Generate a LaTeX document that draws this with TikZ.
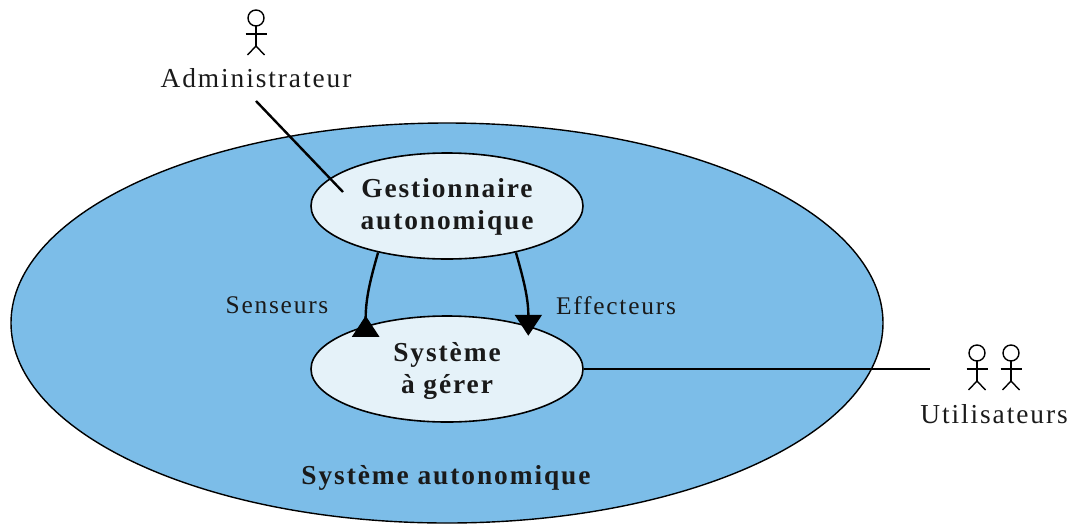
\documentclass[tikz,border=0pt]{standalone}
\usepackage{fontspec}
\setmainfont[LetterSpace=7]{Liberation Serif}
\usetikzlibrary{shapes.geometric,arrows.meta}
\definecolor{outerblue}{HTML}{7CBDE8}
\definecolor{innerblue}{HTML}{E5F2F9}
\definecolor{ink}{HTML}{1A1A1A}
\newcommand{\lowered}[2]{\raisebox{-#1}[\height][\depth]{#2}}
\tikzset{
  outerell/.style={draw=black,line width=1.4pt,fill=outerblue,ellipse,inner sep=0pt,minimum width=872pt,minimum height=400pt},
  innerell/.style={draw=black,line width=1.6pt,fill=innerblue,ellipse,inner sep=0pt,minimum width=272pt,minimum height=106pt,align=center,font=\fontsize{27.4}{32}\selectfont\bfseries,text=ink},
  lbl/.style={inner sep=0pt,font=\fontsize{27.4}{32}\selectfont,text=ink},
  smalllbl/.style={lbl,font=\fontsize{25.4}{32}\selectfont},
  blbl/.style={lbl,font=\fontsize{27.4}{32}\selectfont\bfseries},
  conn/.style={line width=2.4pt,black},
  stick/.style={line width=1.4pt,black},
  pics/actor/.style={code={
    \draw[stick] (0,-15) circle[radius=8];
    \draw[stick] (0,-7) -- (0,13);
    \draw[stick] (-10.5,1) -- (10.5,1);
    \draw[stick] (-8.5,22) -- (0,13) -- (8.5,22);
  }}
}
\begin{document}
\begin{tikzpicture}[x=1pt,y=-1pt]
\useasboundingbox (0,0) rectangle (1071,523);
\begin{scope}
\clip (0,0) rectangle (1071,523);
\node[outerell] (sa) at (447,323) {};
\end{scope}
\node[innerell] (ges) at (447,206) {\lowered{1pt}{Gestionnaire}\\\lowered{1pt}{autonomique}};
\node[innerell] (sys) at (447,369) {\lowered{2pt}{Système}\\\lowered{2pt}{à gérer}};
\node[blbl] (satext) at (446,478) {Système autonomique};
\node[lbl] (adm) at (256,78) {Administrateur};
\node[smalllbl] (sen) at (277,305) {Senseurs};
\node[smalllbl] (eff) at (616,306) {Effecteurs};
\node[lbl] (uti) at (994,414) {Utilisateurs};
\pic at (256,33) {actor};
\pic at (977,368) {actor};
\pic at (1011,368) {actor};
\coordinate (admfoot) at (256,101);
\coordinate (gesin) at (343,192);
\coordinate (utifoot) at (930,369);
\draw[conn] (admfoot) -- (gesin);
\draw[conn] (sys.east) -- (utifoot);
\draw[conn,-{Triangle[reversed,width=27pt,length=21pt]},shorten >=-11pt] (ges.214) to[out=254,in=90,looseness=0.95] (sys.152);
\draw[conn,-{Triangle[width=27pt,length=21pt]},shorten >=-10pt] (ges.326) to[out=286,in=90,looseness=0.95] (sys.28.3);
\end{tikzpicture}
\end{document}
